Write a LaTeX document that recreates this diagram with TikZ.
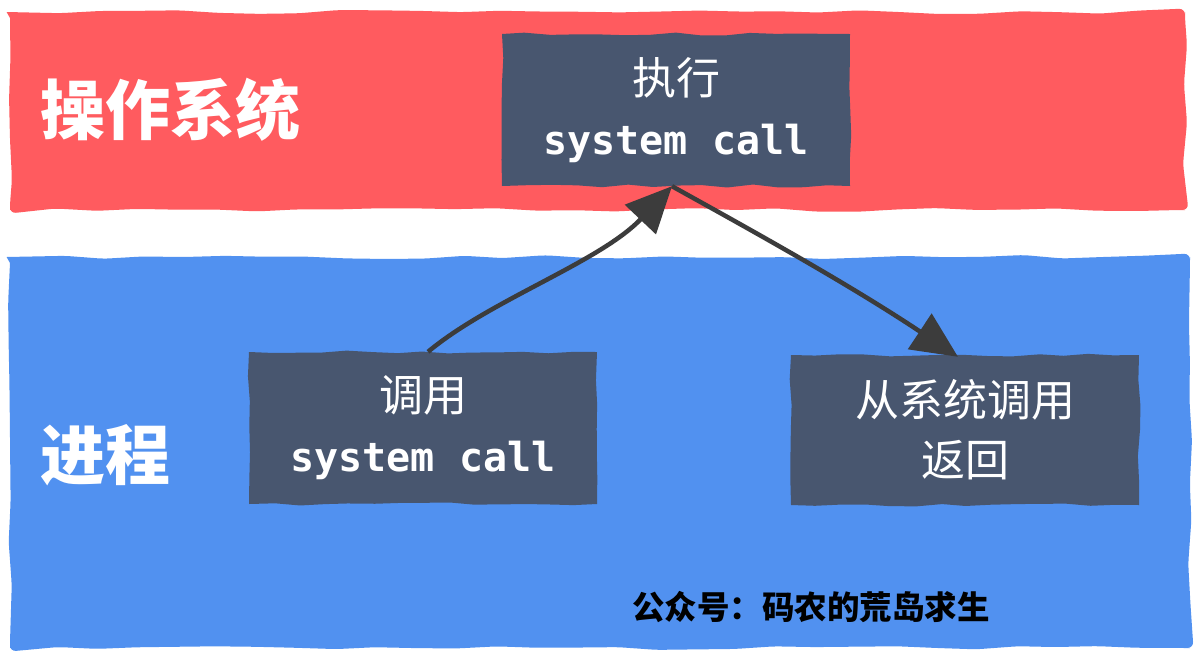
\documentclass[tikz,border=0pt]{standalone}
\usepackage{fontspec}
\setmonofont{DejaVu Sans Mono}
\newfontfamily\cjk{Noto Sans CJK SC}
\usetikzlibrary{arrows.meta,decorations.pathmorphing}
\definecolor{osred}{HTML}{FF5B5F}
\definecolor{procblue}{HTML}{5191F0}
\definecolor{boxslate}{HTML}{48566F}
\definecolor{arrowgray}{HTML}{3C3C3C}
\newcommand{\zh}{\cjk\fontsize{44}{60}\selectfont}
\newcommand{\mono}{\ttfamily\bfseries\fontsize{40}{60}\selectfont}
\tikzset{
  band/.style={decorate,decoration={random steps,segment length=40pt,amplitude=2pt},rounded corners=6pt},
  callbox/.style={fill=boxslate,text=white,align=center,minimum width=348pt,minimum height=152pt,inner sep=0pt,
    decorate,decoration={random steps,segment length=25pt,amplitude=1.5pt},
    font=\fontsize{40}{60}\selectfont},
  bandlabel/.style={text=white,font=\cjk\bfseries\fontsize{65}{65}\selectfont,anchor=west,inner sep=0pt},
  flow/.style={draw=arrowgray,line width=4.5pt,-{Triangle[length=46pt,width=42pt]}},
}
\begin{document}
\begin{tikzpicture}[x=1pt,y=-1pt]
\pgfmathsetseed{7}
\useasboundingbox (0,0) rectangle (1195,657);
\fill[white] (0,0) rectangle (1195,657);
% bands
\fill[osred,band] (10,12) rectangle (1185,210);
\fill[procblue,band] (10,257) rectangle (1190,648);
% band labels
\node[bandlabel] (os) at (40,110) {操作系统};
\node[bandlabel] (proc) at (40,455) {进程};
% boxes
\node[callbox] (exec) at (676,110) {\zh 执行\\\mono system call};
\node[callbox] (invoke) at (423,428) {\zh 调用\\\mono system call};
\node[callbox,minimum height=150pt] (ret) at (965,430) {\zh 从系统调用\\\zh 返回};
% arrows
\draw[flow] ([xshift=5pt]invoke.north) .. controls (490,300) and (600,262) .. ([xshift=-4pt]exec.south);
\draw[flow] ([xshift=-4pt]exec.south) .. controls (760,235) and (850,285) .. ([xshift=-7pt,yshift=-2pt]ret.north);
% watermark
\node[font=\cjk\bfseries\fontsize{32.5}{32.5}\selectfont,text=black,inner sep=0pt] (mark) at (811,607) {公众号：码农的荒岛求生};
\end{tikzpicture}
\end{document}
